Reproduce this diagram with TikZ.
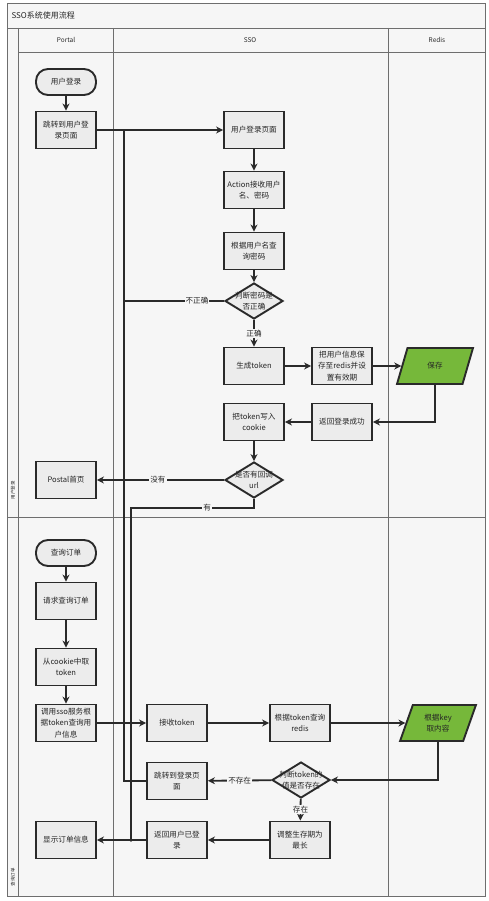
\documentclass[tikz,border=0pt]{standalone}
\usepackage{fontspec}
\newfontfamily\cjk{Noto Sans CJK SC}
\usetikzlibrary{shapes.geometric,arrows.meta}
\definecolor{lanebg}{HTML}{F6F6F6}
\definecolor{boxfill}{HTML}{ECECEC}
\definecolor{datagreen}{HTML}{76B83A}
\definecolor{edge}{HTML}{2A2A2A}
\definecolor{frame}{HTML}{6E6E6E}
\begin{document}
\begin{tikzpicture}[x=1pt, y=-1pt, >={Stealth[length=7pt,width=7pt]},
    every node/.style={font=\cjk\fontsize{7.6}{11.5}\selectfont, text=black!85},
    proc/.style={draw=edge, line width=1.9pt, fill=boxfill, minimum width=60pt,
      minimum height=37pt, inner xsep=1pt, inner ysep=0pt, align=center},
    term/.style={proc, rounded corners=12pt, minimum height=26pt},
    dec/.style={draw=edge, line width=1.9pt, fill=boxfill, diamond,
      minimum width=58pt, minimum height=36pt, inner sep=0pt},
    data/.style={draw=edge, line width=1.9pt, fill=datagreen, trapezium,
      trapezium left angle=70, trapezium right angle=110, trapezium stretches=true,
      minimum width=76pt, minimum height=36pt, inner sep=1pt, align=center},
    flow/.style={draw=edge, line width=1.8pt, ->},
    link/.style={draw=edge, line width=1.8pt},
    tag/.style={fill=lanebg, inner sep=1pt},
    lane/.style={draw=frame, line width=0.8pt},
    head/.style={font=\cjk\fontsize{6.5}{8}\selectfont},
    phase/.style={rotate=90, font=\cjk\fontsize{4.5}{5}\selectfont}]
  \useasboundingbox (0,0) rectangle (489,901);
  \fill[lanebg] (7,3) rectangle (485,896);
  \draw[lane] (7,3) rectangle (485,896);
  \draw[lane] (7,28) -- (485,28);
  \draw[lane] (18,52) -- (485,52);
  \draw[lane] (7,517) -- (485,517);
  \draw[lane] (18,28) -- (18,896);
  \draw[lane] (113,28) -- (113,896);
  \draw[lane] (388,28) -- (388,896);
  \node[anchor=west, font=\cjk\fontsize{8}{10}\selectfont] (title) at (8,15) {SSO系统使用流程};
  \node[head] (hportal) at (66,40) {Portal};
  \node[head] (hsso) at (250,40) {SSO};
  \node[head] (hredis) at (437,40) {Redis};
  \node[phase] (plogin) at (13,490) {用户登录};
  \node[phase] (porder) at (13,877) {查询订单};

  \node[term] (login) at (66,82) {用户登录};
  \node[proc] (tologin) at (66,130) {跳转到用户登\\录页面};
  \node[proc] (loginpage) at (254,130) {用户登录页面};
  \node[proc] (action) at (254,190) {Action接收用户\\名、密码};
  \node[proc] (querypwd) at (254,251) {根据用户名查\\询密码};
  \node[dec, label={[align=center]center:{判断密码是\\否正确}}] (pwdok) at (254,301) {};
  \node[proc] (gentoken) at (254,366) {生成token};
  \node[proc] (saveinfo) at (342,366) {把用户信息保\\存至redis并设\\置有效期};
  \node[data] (save) at (435,366) {保存};
  \node[proc] (writecookie) at (254,422) {把token写入\\cookie};
  \node[proc] (loginok) at (342,422) {返回登录成功};
  \node[dec, label={[align=center]center:{是否有回调\\url}}] (hasurl) at (254,480) {};
  \node[proc] (portalhome) at (66,480) {Postal首页};

  \node[term] (order) at (66,553) {查询订单};
  \node[proc] (reqorder) at (66,601) {请求查询订单};
  \node[proc] (gettoken) at (66,667) {从cookie中取\\token};
  \node[proc] (callsso) at (66,723) {调用sso服务根\\据token查询用\\户信息};
  \node[proc] (recvtoken) at (177,723) {接收token};
  \node[proc] (queryredis) at (300,723) {根据token查询\\redis};
  \node[data] (getkey) at (438,723) {根据key\\取内容};
  \node[dec, label={[align=center]center:{判断token的\\值是否存在}}] (tokdec) at (301,780) {};
  \node[proc] (tologinb) at (177,781) {跳转到登录页\\面};
  \node[proc] (extend) at (300,840) {调整生存期为\\最长};
  \node[proc] (logged) at (177,840) {返回用户已登\\录};
  \node[proc] (showorder) at (66,840) {显示订单信息};

  \coordinate (ja) at (124,130);
  \coordinate (jb) at (131,508);

  \draw[flow] (login) -- (tologin);
  \draw[flow] (tologin) -- (loginpage);
  \draw[flow] (loginpage) -- (action);
  \draw[flow] (action) -- (querypwd);
  \draw[flow] (querypwd) -- (pwdok);
  \draw[flow] (pwdok) -- node[tag] {正确} (gentoken);
  \draw[link] (pwdok.west) -- node[tag, pos=0.27] {不正确} (ja |- pwdok.west);
  \draw[flow] (gentoken) -- (saveinfo);
  \draw[flow] (saveinfo) -- (save);
  \draw[flow] (save) |- (loginok);
  \draw[flow] (loginok) -- (writecookie);
  \draw[flow] (writecookie) -- (hasurl);
  \draw[flow] (hasurl) -- node[tag, pos=0.52] {没有} (portalhome);
  \draw[link] (hasurl.south) |- node[tag, pos=0.69] {有} (jb) -- (jb |- logged.west);

  \draw[flow] (order) -- (reqorder);
  \draw[flow] (reqorder) -- (gettoken);
  \draw[flow] (gettoken) -- (callsso);
  \draw[flow] (callsso) -- (recvtoken);
  \draw[flow] (recvtoken) -- (queryredis);
  \draw[flow] (queryredis) -- (getkey);
  \draw[flow] (getkey) |- (tokdec);
  \draw[flow] (tokdec) -- node[tag] {不存在} (tologinb);
  \draw[flow] (tokdec) -- node[tag] {存在} (extend);
  \draw[link] (tologinb.west) -- (ja |- tologinb.west) -- (ja);
  \draw[flow] (extend) -- (logged);
  \draw[flow] (logged) -- (showorder);

  \foreach \p in {(ja |- hasurl), (ja |- callsso), (jb |- callsso), (jb |- tologinb), (jb |- logged)}
    \fill[edge] \p circle (1.9pt);
\end{tikzpicture}
\end{document}
